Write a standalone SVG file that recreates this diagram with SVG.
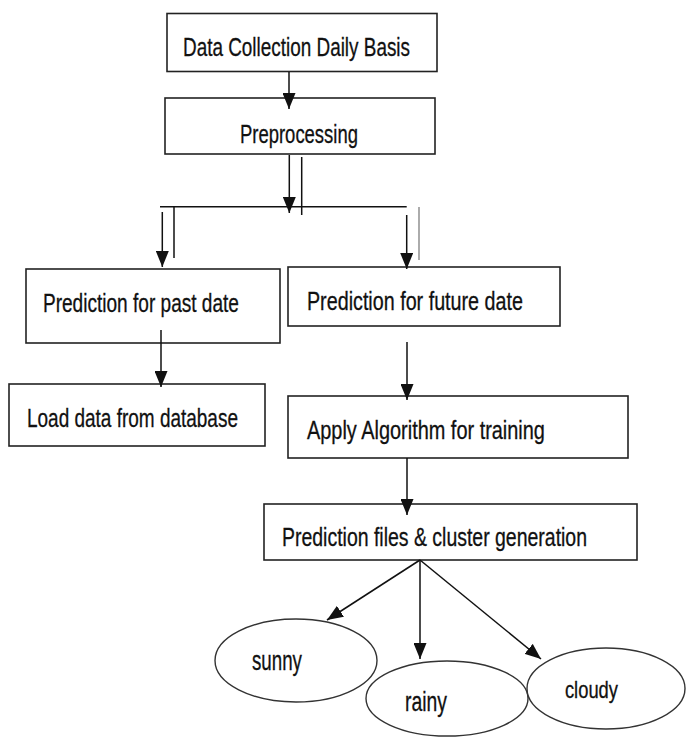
<svg xmlns="http://www.w3.org/2000/svg" width="686" height="737" viewBox="0 0 686 737">
  <defs>
    <marker id="ah" markerUnits="userSpaceOnUse" markerWidth="17" markerHeight="13" refX="16" refY="6.5" orient="auto" viewBox="0 0 17 13">
      <path d="M0,0 L16,6.5 L0,13 z" fill="#111"/>
    </marker>
    <style>
      .box { fill: #fff; stroke: #222; stroke-width: 1.6; }
      .ell { fill: #fff; stroke: #333; stroke-width: 1.4; }
      .t { font-family: "Liberation Sans", Arial, sans-serif; font-size: 26px; fill: #111; stroke: #111; stroke-width: 0.3; }
      .te { font-family: "Liberation Sans", Arial, sans-serif; font-size: 28px; fill: #111; stroke: #111; stroke-width: 0.3; }
      .c { stroke: #111; stroke-width: 1.5; fill: none; }
      .a { stroke: #111; stroke-width: 1.5; fill: none; marker-end: url(#ah); }
      .g { stroke: #888; stroke-width: 1.4; fill: none; }
    </style>
  </defs>
  <rect width="686" height="737" fill="#fff"/>

  <g id="n-data-collection">
    <rect class="box" x="167" y="13.5" width="270" height="58"/>
    <text class="t" transform="scale(0.75,1)" x="244" y="56" textLength="302.7" lengthAdjust="spacingAndGlyphs">Data Collection Daily Basis</text>
  </g>
  <g id="n-preprocessing">
    <rect class="box" x="165" y="98" width="270" height="56"/>
    <text class="t" transform="scale(0.75,1)" x="320" y="143" textLength="157.3" lengthAdjust="spacingAndGlyphs">Preprocessing</text>
  </g>
  <g id="n-past">
    <rect class="box" x="26" y="269" width="254" height="74"/>
    <text class="t" transform="scale(0.75,1)" x="57.3" y="312" textLength="261.3" lengthAdjust="spacingAndGlyphs">Prediction for past date</text>
  </g>
  <g id="n-load">
    <rect class="box" x="9" y="384" width="256" height="62"/>
    <text class="t" transform="scale(0.75,1)" x="36" y="427" textLength="281.3" lengthAdjust="spacingAndGlyphs">Load data from database</text>
  </g>
  <g id="n-future">
    <rect class="box" x="288" y="267" width="272" height="59"/>
    <text class="t" transform="scale(0.75,1)" x="409.3" y="310" textLength="288" lengthAdjust="spacingAndGlyphs">Prediction for future date</text>
  </g>
  <g id="n-apply">
    <rect class="box" x="288" y="396" width="340" height="62"/>
    <text class="t" transform="scale(0.75,1)" x="409.3" y="439" textLength="317.3" lengthAdjust="spacingAndGlyphs">Apply Algorithm for training</text>
  </g>
  <g id="n-prediction-files">
    <rect class="box" x="264" y="504" width="373" height="56"/>
    <text class="t" transform="scale(0.75,1)" x="376" y="546" textLength="406.7" lengthAdjust="spacingAndGlyphs">Prediction files &amp; cluster generation</text>
  </g>

  <g id="connectors">
    <line class="a" x1="289" y1="72" x2="289" y2="109"/>
    <line class="a" x1="289.3" y1="155" x2="289.3" y2="213"/>
    <line class="c" x1="301.7" y1="157" x2="301.7" y2="215"/>
    <line class="c" x1="160" y1="206.7" x2="406.7" y2="206.7"/>
    <line class="c" x1="174" y1="206.7" x2="174" y2="258"/>
    <line class="a" x1="162.3" y1="212" x2="162.3" y2="267"/>
    <line class="a" x1="406.7" y1="215" x2="406.7" y2="269"/>
    <line class="g" x1="419" y1="207" x2="419" y2="260"/>
    <line class="a" x1="161" y1="330" x2="161" y2="387"/>
    <line class="a" x1="407" y1="342" x2="407" y2="400"/>
    <line class="a" x1="407" y1="458" x2="407" y2="515"/>
    <line class="a" x1="420" y1="560" x2="327" y2="620"/>
    <line class="a" x1="420" y1="560" x2="420" y2="659"/>
    <line class="a" x1="420" y1="560" x2="541" y2="659"/>
  </g>

  <g id="n-sunny">
    <ellipse class="ell" cx="296" cy="660.5" rx="81" ry="41.5"/>
    <text class="te" transform="scale(0.7,1)" x="360" y="670" textLength="71.4" lengthAdjust="spacingAndGlyphs">sunny</text>
  </g>
  <g id="n-rainy">
    <ellipse class="ell" cx="447" cy="698.5" rx="81" ry="37.5"/>
    <text class="te" transform="scale(0.7,1)" x="578.6" y="711" textLength="60" lengthAdjust="spacingAndGlyphs">rainy</text>
  </g>
  <g id="n-cloudy">
    <ellipse class="ell" cx="606" cy="688.5" rx="79" ry="40.5"/>
    <text class="te" transform="scale(0.7,1)" x="807.1" y="698" textLength="75.7" lengthAdjust="spacingAndGlyphs" style="font-size:23px">cloudy</text>
  </g>
</svg>
